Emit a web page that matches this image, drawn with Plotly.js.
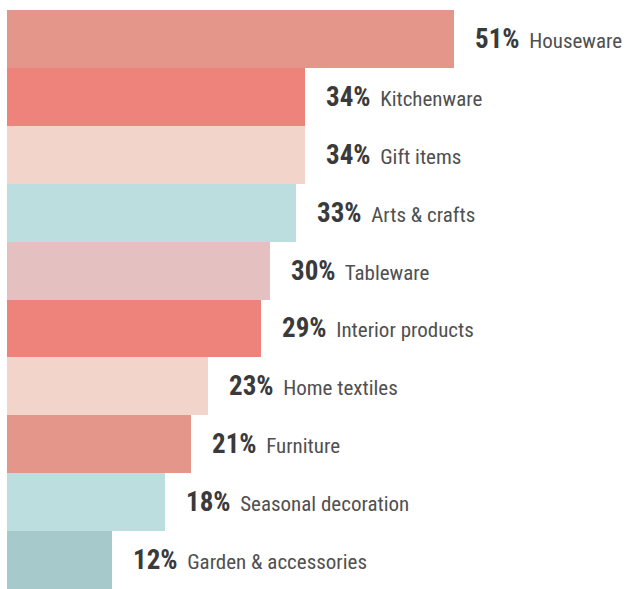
<!DOCTYPE html>
<html><head><meta charset="utf-8">
<script src="https://cdn.plot.ly/plotly-3.0.1.min.js"></script>
<style>html,body{margin:0;padding:0;background:#fff}</style>
</head><body><div id="chart" style="width:635px;height:589px"></div>
<script>
const categories = ["Houseware","Kitchenware","Gift items","Arts & crafts","Tableware","Interior products","Home textiles","Furniture","Seasonal decoration","Garden & accessories"];
const values = [51,34,34,33,30,29,23,21,18,12];
const colors = ["#E5968A","#EE837B","#F2D4CB","#BCDEDF","#E4C1C0","#EE837B","#F2D4CB","#E5968A","#BCDEDF","#A6CACB"];
const FONT = '"Roboto Condensed","Liberation Sans Narrow","DejaVu Sans Condensed",Roboto,sans-serif';
const trace = {type:'bar', orientation:'h', x: values, y: categories, marker:{color: colors, line:{width:0}}, hoverinfo:'none'};
const annotations = categories.map((c,i)=>({
  x: values[i], y: c, xref:'x', yref:'y', xanchor:'left', yanchor:'middle', showarrow:false, xshift: 19,
  text: '<b><span style="font-size:27px;color:#3a3a3a">'+values[i]+'%</span></b>  <span style="font-size:21px;color:#505050">'+c.replace('&','&amp;')+'</span>',
  font:{family: FONT, size:21, color:'#505050'}
}));
const layout = {
  width:635, height:589, margin:{l:7,r:0,t:10,b:0}, paper_bgcolor:'#fff', plot_bgcolor:'#fff',
  bargap:0, showlegend:false,
  xaxis:{range:[0,71.7], visible:false, fixedrange:true},
  yaxis:{autorange:'reversed', visible:false, fixedrange:true},
  annotations: annotations, font:{family:FONT}
};
Plotly.newPlot('chart',[trace],layout,{displayModeBar:false, staticPlot:true});
</script></body></html>
